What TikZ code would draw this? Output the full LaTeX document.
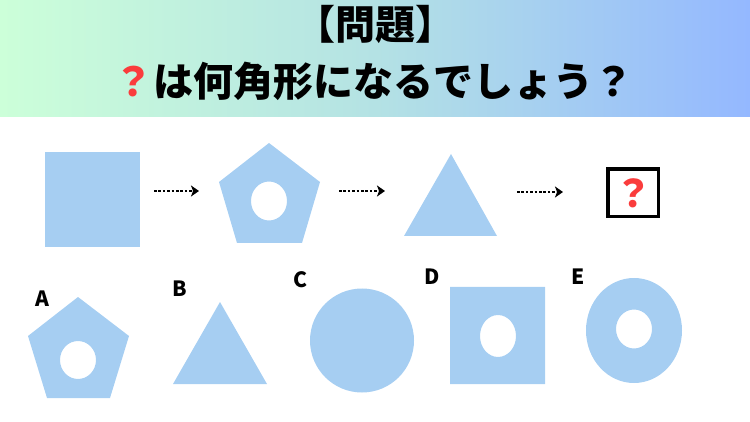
\documentclass[tikz,border=0pt]{standalone}
\usepackage{fontspec}
\usepackage{xcolor}
\usepackage{tikz}
\usetikzlibrary{arrows.meta}
\newfontfamily\jpfont{Noto Sans CJK JP}
\definecolor{shapeblue}{HTML}{A6CEF2}
\definecolor{qred}{RGB}{250,60,60}
\definecolor{bandleft}{HTML}{CCFFD9}
\definecolor{bandmid}{HTML}{B4E2E4}
\definecolor{bandright}{HTML}{94B8FF}

\begin{document}
\begin{tikzpicture}[
  x=1pt, y=-1pt,
  title/.style = {
    inner sep=0pt,
    font=\jpfont\bfseries\fontsize{40}{44}\selectfont},
  choice/.style = {
    inner sep=0pt,
    font=\jpfont\bfseries\fontsize{21}{24}\selectfont},
  figfill/.style = {fill=shapeblue, even odd rule},
  qbox/.style = {
    rectangle, draw=black, line width=3.5pt, fill=white,
    minimum width=50.5pt, minimum height=47.5pt, inner sep=0pt,
    text=qred, font=\jpfont\bfseries\fontsize{38}{40}\selectfont},
  arr/.style  = {-{Stealth[length=8pt,width=11pt,inset=2pt]}, line width=2.8pt,
                 dash pattern=on 2.6pt off 1.8pt}
]
\useasboundingbox (0,0) rectangle (750,422);

%── Header band ──────────────────────────────────────────────────
\shade[left color=bandleft, right color=bandright, middle color=bandmid]
  (0,0) rectangle (750,117);

\node[title] (head) at (375,24) {【問題】};
\node[title] (ask)  at (373,81)
  {{\color{qred}？}は何角形になるでしょう？};

%── Sequence row ─────────────────────────────────────────────────
\fill[figfill] (45,152) rectangle (140,247);

\fill[figfill] (269,143) -- (320,182) -- (302,243) -- (237,243)
  -- (219,182) -- cycle
  (269,201) ellipse [x radius=18, y radius=19.5];

\fill[figfill] (451,154) -- (497,236) -- (404,236) -- cycle;

\node[qbox] (Q) at (633,193) {？};

\coordinate (s1) at (154,191);  \coordinate (e1) at (199,191);
\coordinate (s2) at (339,191);  \coordinate (e2) at (385,191);
\coordinate (s3) at (517,192);  \coordinate (e3) at (563,192);

\draw[arr] (s1) -- (e1);
\draw[arr] (s2) -- (e2);
\draw[arr] (s3) -- (e3);

%── Answer choices ───────────────────────────────────────────────
\node[choice] (A) at (42,299) {A};
\node[choice] (B) at (180,289) {B};
\node[choice] (C) at (301,280) {C};
\node[choice] (D) at (432,277) {D};
\node[choice] (E) at (578,277) {E};

\fill[figfill] (78,297) -- (129,336) -- (110,398) -- (47,398)
  -- (28,336) -- cycle
  (78,360) ellipse [x radius=18, y radius=19];

\fill[figfill] (220,302) -- (267,384) -- (173,384) -- cycle;

\fill[figfill] (362,340.5) circle [radius=52];

\fill[figfill] (450,287) rectangle (545,384)
  (498,336) ellipse [x radius=18, y radius=21];

\fill[figfill] (634,330.5) ellipse [x radius=48, y radius=52.5]
  (634,329) ellipse [x radius=18, y radius=19.5];

\end{tikzpicture}
\end{document}
